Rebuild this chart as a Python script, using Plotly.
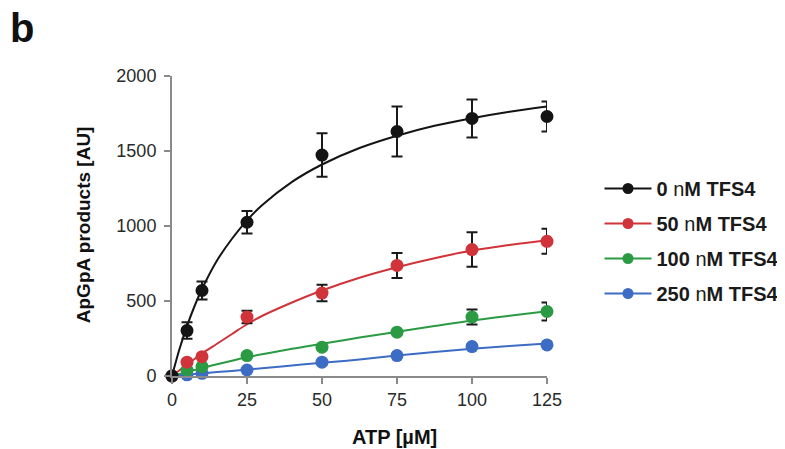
import plotly.graph_objects as go

# ---------------- data ----------------
atp = [0, 5, 10, 25, 50, 75, 100, 125]

series_names = ["0 nM TFS4", "50 nM TFS4", "100 nM TFS4", "250 nM TFS4"]
legend_labels = ["<b>0 </b>n<b>M TFS4</b>", "<b>50 </b>n<b>M TFS4</b>",
                 "<b>100 </b>n<b>M TFS4</b>", "<b>250 </b>n<b>M TFS4</b>"]

y_0nM = [0, 303, 570, 1025, 1473, 1630, 1717, 1730]
e_0nM = [0, 55, 60, 75, 145, 167, 127, 100]

y_50nM = [0, 92, 129, 393, 553, 737, 843, 898]
e_50nM = [0, 0, 0, 42, 55, 83, 115, 83]

y_100nM = [0, 40, 62, 136, 192, 292, 393, 430]
e_100nM = [0, 0, 0, 0, 0, 0, 50, 60]

y_250nM = [0, 8, 18, 40, 92, 136, 196, 207]
e_250nM = [0, 0, 0, 0, 0, 0, 0, 0]

# fitted curves
atp_fit = [0, 2.5, 5, 7.5, 10, 15, 20, 25, 30, 40, 50, 62.5, 75, 87.5, 100, 112.5, 125]
fit_0nM = [0, 180, 333, 465, 580, 770, 915, 1038, 1138, 1294, 1410, 1520, 1602, 1668, 1719, 1762, 1797]
fit_50nM = [0, 38, 76, 113, 150, 215, 280, 345, 400, 490, 570, 655, 725, 785, 836, 873, 905]
fit_100nM = [0, 14, 27, 40, 53, 78, 102, 125, 145, 182, 215, 256, 295, 333, 370, 402, 432]
fit_250nM = [0, 5, 9, 13, 17, 26, 34, 43, 52, 70, 88, 110, 136, 160, 182, 200, 216]

x_ticks = [0, 25, 50, 75, 100, 125]
y_ticks = [0, 500, 1000, 1500, 2000]

colors = ["#141414", "#d0343a", "#2a9b42", "#3c6cc4"]

FONT = "Liberation Sans, Arial, Helvetica, sans-serif"

fig = go.Figure()

ys = [y_0nM, y_50nM, y_100nM, y_250nM]
es = [e_0nM, e_50nM, e_100nM, e_250nM]
fits = [fit_0nM, fit_50nM, fit_100nM, fit_250nM]

# draw from last to first so black is on top
for i in [3, 2, 1, 0]:
    fig.add_trace(go.Scatter(
        x=atp_fit, y=fits[i], mode="lines", line=dict(color=colors[i], width=2, shape="spline"),
        showlegend=False, hoverinfo="skip", cliponaxis=False))
for i in [3, 2, 1, 0]:
    fig.add_trace(go.Scatter(
        x=atp, y=ys[i], mode="markers",
        marker=dict(color=colors[i], size=13, line=dict(width=0)),
        error_y=dict(type="data", array=es[i], visible=True, color="#1a1a1a", thickness=2, width=5.5),
        showlegend=False, cliponaxis=False, name=series_names[i]))

# legend entries
for i in range(4):
    fig.add_trace(go.Scatter(
        x=[None], y=[None], mode="lines+markers",
        line=dict(color=colors[i], width=2),
        marker=dict(color=colors[i], size=11),
        name=legend_labels[i], legendgroup=series_names[i], showlegend=True))

fig.update_layout(
    width=805, height=441,
    margin=dict(l=164, r=266, t=68, b=73),
    paper_bgcolor="white", plot_bgcolor="white",
    font=dict(family=FONT, color="#2a2a2a", size=18),
    showlegend=True,
    legend=dict(x=1.14, y=0.69, xanchor="left", yanchor="top",
                font=dict(family=FONT, size=20, color="#1a1a1a"),
                tracegroupgap=6, itemwidth=47, bgcolor="rgba(0,0,0,0)"),
    xaxis=dict(range=[0, 125], tickvals=x_ticks, ticktext=[str(v) for v in x_ticks],
               showline=True, linecolor="#8a8a8a", linewidth=2,
               ticks="outside", ticklen=6, tickwidth=2, tickcolor="#8a8a8a",
               showgrid=False, zeroline=False,
               tickfont=dict(family=FONT, size=18, color="#2a2a2a")),
    yaxis=dict(range=[0, 2000], tickvals=y_ticks, ticktext=[str(v) for v in y_ticks],
               showline=True, linecolor="#8a8a8a", linewidth=2,
               ticks="outside", ticklen=6, tickwidth=2, tickcolor="#8a8a8a",
               ticklabelstandoff=4,
               showgrid=False, zeroline=False,
               tickfont=dict(family=FONT, size=18, color="#2a2a2a")),
    annotations=[
        dict(text="<b>b</b>", xref="paper", yref="paper", x=-0.401, y=1.159,
             xanchor="center", yanchor="middle", showarrow=False,
             font=dict(family=FONT, size=40, color="#111")),
        dict(text="<b>ATP [µM]</b>", xref="paper", yref="paper", x=0.592, y=-0.203,
             xanchor="center", yanchor="middle", showarrow=False,
             font=dict(family=FONT, size=20, color="#111")),
        dict(text="<b>ApGpA products [AU]</b>", xref="paper", yref="paper", x=-0.237, y=0.503,
             xanchor="center", yanchor="middle", showarrow=False, textangle=-90,
             font=dict(family=FONT, size=19, color="#111")),
    ],
)

fig.write_html("out.html")
